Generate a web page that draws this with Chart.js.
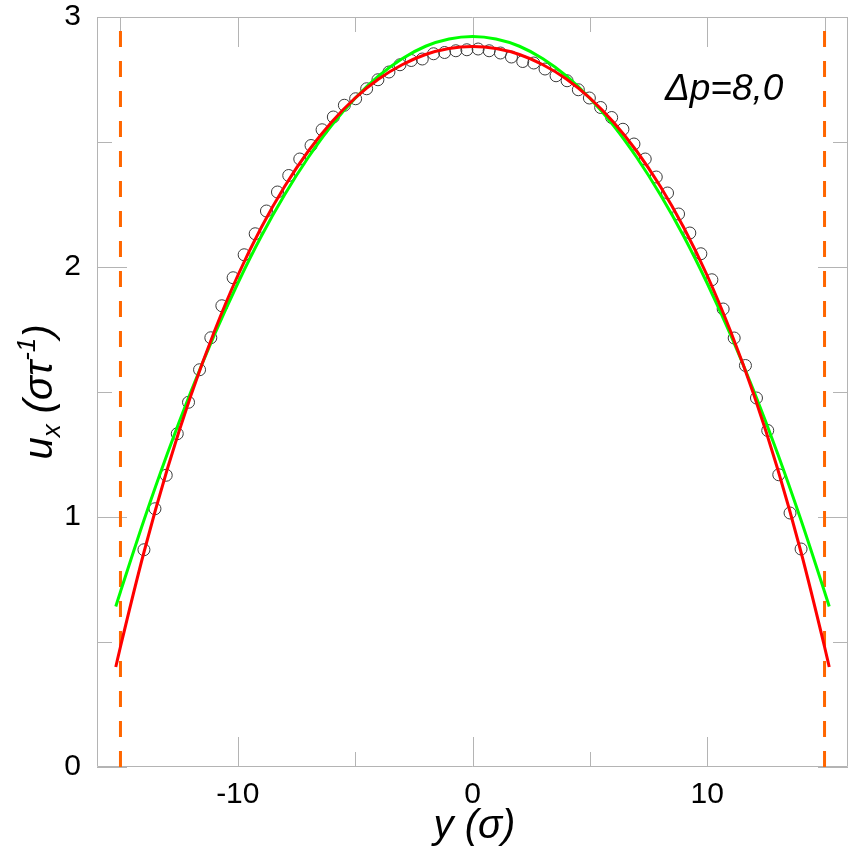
<!DOCTYPE html>
<html lang="en">
<head>
<meta charset="UTF-8">
<title>Velocity profile</title>
<script src="https://cdn.jsdelivr.net/npm/chart.js"></script>
<style>
    body {
        margin: 0;
        background: #fff;
    }
    .chart-box {
        width: 858px;
        height: 854px;
        position: relative;
    }
</style>
</head>
<body>
<div class="chart-box"><canvas id="profileChart"></canvas></div>
<script>
    // simulation points (open circles)
    const simY = [-14.00, -13.53, -13.05, -12.58, -12.10, -11.63, -11.15, -10.68, -10.20, -9.73,
                  -9.26, -8.78, -8.31, -7.83, -7.36, -6.88, -6.41, -5.93, -5.46, -4.98,
                  -4.51, -4.03, -3.56, -3.09, -2.61, -2.14, -1.66, -1.19, -0.71, -0.24,
                  0.24, 0.71, 1.19, 1.66, 2.14, 2.61, 3.09, 3.56, 4.03, 4.51,
                  4.98, 5.46, 5.93, 6.41, 6.88, 7.36, 7.83, 8.31, 8.78, 9.26,
                  9.73, 10.20, 10.68, 11.15, 11.63, 12.10, 12.58, 13.05, 13.53, 14.00];
    const simU = [0.869, 1.033, 1.167, 1.333, 1.459, 1.589, 1.717, 1.845, 1.957, 2.049,
                  2.133, 2.224, 2.300, 2.366, 2.432, 2.486, 2.549, 2.600, 2.647, 2.673,
                  2.713, 2.749, 2.780, 2.809, 2.826, 2.832, 2.853, 2.858, 2.865, 2.869,
                  2.872, 2.865, 2.856, 2.840, 2.822, 2.816, 2.792, 2.765, 2.745, 2.709,
                  2.676, 2.638, 2.598, 2.551, 2.492, 2.432, 2.360, 2.296, 2.212, 2.136,
                  2.053, 1.949, 1.832, 1.716, 1.606, 1.476, 1.346, 1.169, 1.016, 0.872];

    // fitted curves
    const fitY = [-15.2, -15, -14, -13, -12, -11, -10, -9, -8, -7, -6, -5, -4, -3, -2, -1, 0,
                  1, 2, 3, 4, 5, 6, 7, 8, 9, 10, 11, 12, 13, 14, 15, 15.2];
    const redU = [0.400, 0.481, 0.859, 1.193, 1.486, 1.742, 1.966, 2.158, 2.323, 2.463, 2.580, 2.676, 2.752, 2.809, 2.850, 2.874, 2.882,
                  2.874, 2.850, 2.809, 2.752, 2.676, 2.580, 2.463, 2.323, 2.158, 1.966, 1.742, 1.486, 1.193, 0.859, 0.481, 0.400];
    const greenU = [0.642, 0.701, 0.987, 1.254, 1.501, 1.728, 1.935, 2.123, 2.290, 2.438, 2.567, 2.675, 2.764, 2.833, 2.883, 2.912, 2.922,
                    2.912, 2.883, 2.833, 2.764, 2.675, 2.567, 2.438, 2.290, 2.123, 1.935, 1.728, 1.501, 1.254, 0.987, 0.701, 0.642];

    // walls
    const wallY = [-15, 15];
    const wallU = [3, 0];

    // ticks
    const xTicks = [-10, 0, 10];
    const xMinor = [-15, -5, 5, 15];
    const yTicks = [0, 1, 2, 3];
    const yMinor = [0.5, 1.5, 2.5];

    const FONT = "'Liberation Sans', Arial, sans-serif";
    const AXIS_GRAY = '#b4b4b4';

    function pairs(xs, ys) {
        return xs.map((x, i) => ({ x: x, y: ys[i] }));
    }

    // frame with inward ticks on all four sides
    const framePlugin = {
        id: 'framePlugin',
        beforeDatasetsDraw(chart) {
            const ctx = chart.ctx;
            const a = chart.chartArea;
            const xs = chart.scales.x;
            const ys = chart.scales.y;
            ctx.save();
            ctx.strokeStyle = AXIS_GRAY;
            ctx.lineWidth = 1;
            ctx.beginPath();
            ctx.rect(a.left + 0.5, a.top + 0.5, a.right - a.left - 1, a.bottom - a.top - 1);
            const tickX = (v, len) => {
                const px = Math.round(xs.getPixelForValue(v)) + 0.5;
                ctx.moveTo(px, a.bottom); ctx.lineTo(px, a.bottom - len);
                ctx.moveTo(px, a.top); ctx.lineTo(px, a.top + len);
            };
            const tickY = (v, len) => {
                const py = Math.round(ys.getPixelForValue(v)) + 0.5;
                ctx.moveTo(a.left, py); ctx.lineTo(a.left + len, py);
                ctx.moveTo(a.right, py); ctx.lineTo(a.right - len, py);
            };
            xTicks.forEach(v => tickX(v, 30));
            xMinor.forEach(v => tickX(v, 15));
            yTicks.forEach(v => tickY(v, 30));
            yMinor.forEach(v => tickY(v, 15));
            ctx.stroke();
            ctx.restore();
        },
        afterDraw(chart) {
            const ctx = chart.ctx;
            const a = chart.chartArea;
            const xs = chart.scales.x;
            const ys = chart.scales.y;
            ctx.save();
            ctx.fillStyle = '#000';
            ctx.textBaseline = 'alphabetic';

            // x title
            ctx.font = 'italic 40px ' + FONT;
            ctx.textAlign = 'center';
            ctx.fillText('y (\u03c3)', (a.left + a.right) / 2 + 2, 838);

            // y title, rotated
            ctx.translate(52, (a.top + a.bottom) / 2);
            ctx.rotate(-Math.PI / 2);
            ctx.textAlign = 'left';
            const parts = [
                { t: 'u', size: 40, dy: 0 },
                { t: 'x', size: 26, dy: 8 },
                { t: ' (\u03c3\u03c4', size: 40, dy: 0 },
                { t: '-1', size: 26, dy: -17 },
                { t: ')', size: 40, dy: 0 }
            ];
            let total = 0;
            parts.forEach(p => {
                ctx.font = 'italic ' + p.size + 'px ' + FONT;
                p.w = ctx.measureText(p.t).width;
                total += p.w;
            });
            let cx = -total / 2;
            parts.forEach(p => {
                ctx.font = 'italic ' + p.size + 'px ' + FONT;
                ctx.fillText(p.t, cx, p.dy);
                cx += p.w;
            });
            ctx.setTransform(1, 0, 0, 1, 0, 0);

            // label in the corner
            ctx.font = 'italic 37px ' + FONT;
            ctx.textAlign = 'left';
            ctx.fillText('\u0394p=8,0', xs.getPixelForValue(8.2), ys.getPixelForValue(2.67));
            ctx.restore();
        }
    };

    const dashed = {
        borderColor: '#ff6600',
        borderWidth: 3,
        borderDash: [16, 14],
        borderDashOffset: 16,
        pointRadius: 0,
        showLine: true,
        order: 4
    };

    new Chart(document.getElementById('profileChart'), {
        type: 'scatter',
        data: {
            datasets: [
                {
                    label: 'fit 2',
                    data: pairs(fitY, redU),
                    showLine: true,
                    borderColor: '#ff0000',
                    borderWidth: 3,
                    pointRadius: 0,
                    cubicInterpolationMode: 'monotone',
                    order: 1
                },
                {
                    label: 'fit 1',
                    data: pairs(fitY, greenU),
                    showLine: true,
                    borderColor: '#00ff00',
                    borderWidth: 3,
                    pointRadius: 0,
                    cubicInterpolationMode: 'monotone',
                    order: 2
                },
                {
                    label: 'MD',
                    data: pairs(simY, simU),
                    pointStyle: 'circle',
                    pointRadius: 6,
                    pointBorderWidth: 1,
                    pointBorderColor: '#3a3a3a',
                    pointBackgroundColor: 'rgba(0,0,0,0)',
                    order: 3
                },
                Object.assign({ label: 'wall L', data: pairs([wallY[0], wallY[0]], wallU) }, dashed),
                Object.assign({ label: 'wall R', data: pairs([wallY[1], wallY[1]], wallU) }, dashed)
            ]
        },
        options: {
            responsive: true,
            maintainAspectRatio: false,
            animation: false,
            layout: {
                padding: { top: 17, right: 10, left: 0, bottom: 0 }
            },
            plugins: {
                legend: { display: false },
                tooltip: { enabled: false }
            },
            scales: {
                x: {
                    type: 'linear',
                    min: -16,
                    max: 16,
                    afterBuildTicks: s => { s.ticks = xTicks.map(v => ({ value: v })); },
                    afterFit: s => { s.height = 87; s.paddingLeft = 0; s.paddingRight = 0; },
                    grid: { display: false, drawTicks: false, tickLength: 0 },
                    border: { display: false },
                    ticks: {
                        padding: 10,
                        color: '#000',
                        maxRotation: 0,
                        font: { family: FONT, size: 30 }
                    }
                },
                y: {
                    type: 'linear',
                    min: 0,
                    max: 3,
                    afterBuildTicks: s => { s.ticks = yTicks.map(v => ({ value: v })); },
                    afterFit: s => { s.width = 97; s.paddingTop = 0; s.paddingBottom = 0; },
                    grid: { display: false, drawTicks: false, tickLength: 0 },
                    border: { display: false },
                    ticks: {
                        padding: 16,
                        color: '#000',
                        font: { family: FONT, size: 30 }
                    }
                }
            }
        },
        plugins: [framePlugin]
    });
</script>
</body>
</html>
